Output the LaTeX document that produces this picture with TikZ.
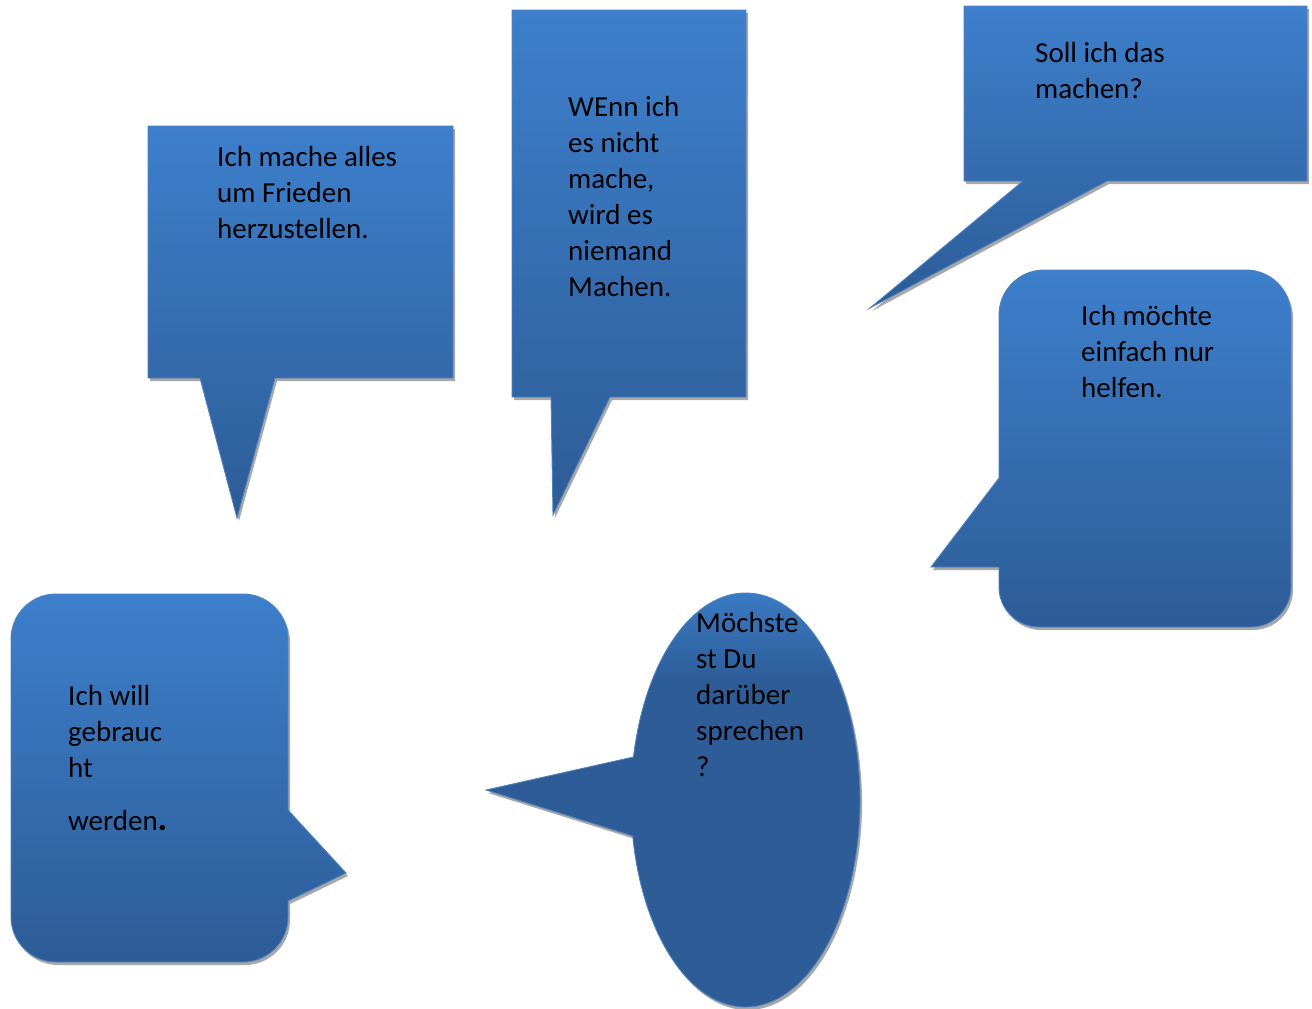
\documentclass[tikz,border=0pt]{standalone}
\usepackage{fontspec}
\setmainfont{Carlito}
\definecolor{bublight}{RGB}{61,127,204}
\definecolor{bubdark}{RGB}{45,92,150}
\definecolor{bubedge}{RGB}{78,130,192}
\definecolor{shadowc}{RGB}{168,168,168}
\pgfdeclareverticalshading{ovalshade}{100bp}{color(0bp)=(bubdark); color(63bp)=(bubdark); color(75bp)=(bublight); color(100bp)=(bublight)}
\tikzset{
  bubble/.style={preaction={fill=shadowc, transform canvas={xshift=2pt,yshift=-3pt}},
    top color=bublight, bottom color=bubdark, draw=bubedge, line width=0.9pt, line join=miter},
  ovalbubble/.style={preaction={fill=shadowc, transform canvas={xshift=2pt,yshift=-3pt}},
    shading=ovalshade, draw=bubedge, line width=0.9pt},
  % the base anchor of these multi-line nodes sits on the last line
  txt/.style={font=\fontsize{29}{36}\selectfont, align=left, inner sep=0pt, text=black, anchor=base west}
}
\begin{document}
\begin{tikzpicture}[x=1pt,y=1pt]
\useasboundingbox (0,0) rectangle (1312,-1009);

% rectangular callout, tail pointing down
\path[bubble] (148,-126) -- (453,-126) -- (453,-378) -- (275,-378) -- (237,-518)
  -- (200,-378) -- (148,-378) -- cycle;
\node[txt] (t1) at (217,-238) {Ich mache alles\\um Frieden\\herzustellen.};

% tall rectangular callout
\path[bubble] (512,-10) -- (746,-10) -- (746,-397) -- (610,-397) -- (553,-515)
  -- (551,-397) -- (512,-397) -- cycle;
\node[txt] (t2) at (568,-296) {WEnn ich\\es nicht\\mache,\\wird es\\niemand\\Machen.};

% wide rectangular callout, tail down-left
\path[bubble] (964,-6) -- (1307,-6) -- (1307,-181) -- (1107,-181) -- (870,-308)
  -- (1023,-181) -- (964,-181) -- cycle;
\node[txt] (t3) at (1035,-98) {Soll ich das\\machen?};

% rounded callout, tail to the left
\path[bubble] (999,-478) -- (999,-315) arc[start angle=180, end angle=90, radius=45]
  -- (1246,-270) arc[start angle=90, end angle=0, radius=45]
  -- (1291,-587) arc[start angle=0, end angle=-90, radius=40]
  -- (1039,-627) arc[start angle=-90, end angle=-180, radius=40]
  -- (999,-567) -- (931,-567) -- cycle;
\node[txt] (t4) at (1081,-397) {Ich möchte\\einfach nur\\helfen.};

% rounded callout, tail to the right
\path[bubble] (288,-810) -- (288,-639) arc[start angle=0, end angle=90, radius=45]
  -- (56,-594) arc[start angle=90, end angle=180, radius=45]
  -- (11,-917) arc[start angle=180, end angle=270, radius=45]
  -- (243,-962) arc[start angle=270, end angle=360, radius=45]
  -- (288,-901) -- (346,-873) -- cycle;
\node[txt] (t5) at (68,-830) {Ich will\\gebrauc\\ht\\[17pt]werden{\fontsize{36}{36}\selectfont\textbf{.}}};

% oval callout, tail to the left
\path[ovalbubble] (486,-790) -- ([shift={(745.5,-800)}]190:114.5 and 207)
  arc[start angle=190, end angle=528, x radius=114.5, y radius=207] -- cycle;
\node[txt] (t6) at (696,-776) {Möchste\\st Du\\darüber\\sprechen\\?};
\end{tikzpicture}
\end{document}
